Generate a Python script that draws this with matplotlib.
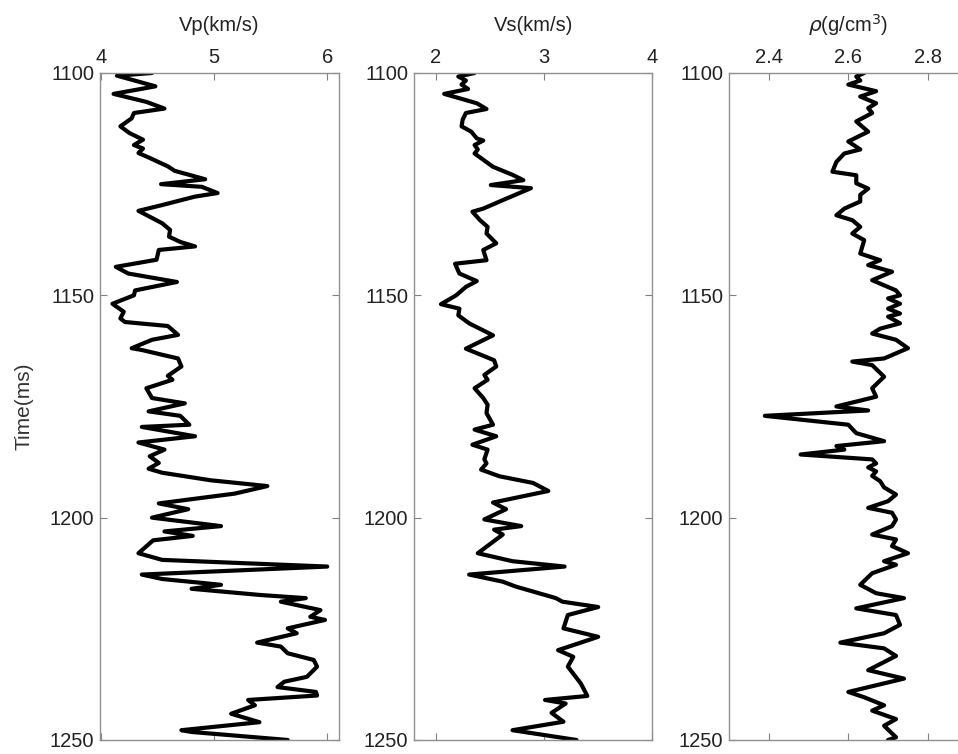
import numpy as np
import matplotlib
matplotlib.use("Agg")
import matplotlib.pyplot as plt

plt.rcParams["font.family"] = ["Liberation Sans", "DejaVu Sans"]

# Vp log (time in ms, velocity in km/s)
vp_t = [1100, 1100.6, 1103, 1104.7, 1106.5, 1108, 1109, 1110.2, 1112, 1113.5, 1115,
        1116.2, 1117, 1118, 1119, 1121, 1122, 1123.9, 1125, 1125.6, 1127, 1127.8,
        1129.7, 1131, 1133.8, 1135.3, 1136.8, 1138, 1139, 1139.8, 1142, 1143.6,
        1145.1, 1147, 1148.9, 1150, 1151.9, 1153.7, 1155.2, 1156, 1156.9, 1158.9,
        1160, 1161.9, 1162.3, 1164.2, 1166, 1168.1, 1169, 1170.9, 1173.1, 1174.3,
        1176.1, 1177.1, 1179.1, 1179.6, 1181.7, 1183.1, 1184.7, 1186.2, 1187.7,
        1189, 1189.9, 1191.6, 1192.9, 1194.6, 1196.8, 1198.1, 1200, 1201.9, 1203.1,
        1204.1, 1205.1, 1208, 1209.5, 1211, 1212.8, 1213.8, 1215.1, 1216, 1217.4,
        1218.1, 1218.9, 1220.8, 1222.3, 1223, 1224.9, 1226, 1228.1, 1229, 1230.5,
        1232, 1233.5, 1235.8, 1236.9, 1238.1, 1239.2, 1240, 1241, 1242.2, 1244.1,
        1246, 1247.8, 1248.2, 1250]
vp = [4.45, 4.14, 4.48, 4.11, 4.40, 4.56, 4.29, 4.27, 4.17, 4.25, 4.37,
      4.29, 4.37, 4.33, 4.42, 4.59, 4.65, 4.92, 4.53, 4.89, 5.03, 4.83,
      4.54, 4.33, 4.54, 4.61, 4.60, 4.70, 4.83, 4.51, 4.49, 4.13,
      4.24, 4.67, 4.30, 4.29, 4.10, 4.20, 4.17, 4.21, 4.59, 4.68,
      4.45, 4.27, 4.36, 4.68, 4.71, 4.59, 4.63, 4.40, 4.45, 4.74,
      4.42, 4.70, 4.78, 4.36, 4.83, 4.33, 4.56, 4.43, 4.51,
      4.42, 4.54, 4.97, 5.47, 5.18, 4.51, 4.77, 4.45, 5.06, 4.56,
      4.81, 4.46, 4.33, 4.54, 6.00, 4.36, 4.54, 5.06, 4.80, 5.41,
      5.81, 5.59, 5.94, 5.85, 5.98, 5.65, 5.73, 5.38, 5.59, 5.65,
      5.88, 5.91, 5.82, 5.62, 5.56, 5.90, 5.91, 5.30, 5.36, 5.15,
      5.40, 4.71, 4.80, 5.65]

# Vs log
vs_t = [1100, 1100.8, 1101.7, 1102.6, 1103.6, 1104.7, 1106.8, 1108.1, 1109, 1110.5,
        1112, 1113.2, 1114.7, 1115.2, 1116.2, 1117.2, 1118.1, 1121.1, 1122.9, 1124.1,
        1125.2, 1125.9, 1128.6, 1130.5, 1131.2, 1133.1, 1134.6, 1136.1, 1138.3,
        1139.8, 1142.1, 1142.9, 1145.1, 1146.8, 1148.1, 1150, 1152, 1153, 1154.5,
        1156.3, 1159, 1162, 1164.6, 1166, 1167.9, 1169, 1170.9, 1173.1, 1174.6,
        1176.5, 1179.1, 1180.2, 1181.7, 1183.6, 1184.7, 1186.9, 1187.8, 1189.2,
        1190.7, 1192.2, 1194, 1196.6, 1198.1, 1200.4, 1201.9, 1202.7, 1203.8, 1208,
        1209.8, 1211, 1212.8, 1214.4, 1215.5, 1218.1, 1218.9, 1220.1, 1221.9,
        1224.9, 1226.8, 1229.8, 1231.3, 1233.5, 1237.3, 1240.1, 1241, 1241.8,
        1243.9, 1245.9, 1247.8, 1250]
vs = [2.36, 2.21, 2.28, 2.24, 2.30, 2.08, 2.38, 2.47, 2.28, 2.25,
      2.24, 2.33, 2.38, 2.44, 2.36, 2.39, 2.36, 2.53, 2.71, 2.81,
      2.51, 2.88, 2.62, 2.44, 2.34, 2.41, 2.48, 2.47, 2.56,
      2.44, 2.47, 2.18, 2.22, 2.38, 2.28, 2.19, 2.05, 2.22, 2.21,
      2.31, 2.53, 2.28, 2.54, 2.56, 2.45, 2.48, 2.36, 2.44, 2.48,
      2.47, 2.53, 2.36, 2.56, 2.34, 2.48, 2.45, 2.47, 2.42,
      2.59, 2.90, 3.04, 2.53, 2.65, 2.45, 2.79, 2.54, 2.62, 2.39,
      2.71, 3.19, 2.31, 2.62, 2.74, 3.11, 3.17, 3.50, 3.22,
      3.18, 3.50, 3.13, 3.27, 3.22, 3.34, 3.40, 3.01, 3.20,
      3.07, 3.18, 2.71, 3.30]

# Density log
rho_t = [1100, 1100.8, 1101.7, 1102.6, 1104.1, 1105.3, 1106.8, 1107.9, 1109, 1110.9,
         1113.2, 1115.4, 1117.2, 1118.1, 1120, 1122.2, 1123, 1124.8, 1126, 1127.4,
         1128.9, 1130.5, 1132, 1133.1, 1134.6, 1136.1, 1137.6, 1140.6, 1142.1,
         1143.2, 1144.7, 1146.6, 1148.9, 1150, 1150.7, 1151.9, 1153, 1154.1, 1154.8,
         1156.3, 1157.5, 1158.6, 1160, 1161.9, 1164.2, 1164.9, 1165.7, 1168.3,
         1170.9, 1172.8, 1175, 1175.9, 1177.1, 1179.1, 1181, 1182.8, 1183.9, 1184.7,
         1185.8, 1186.9, 1187.8, 1188.7, 1189.6, 1190.6, 1191.8, 1193.2, 1194.8,
         1196.3, 1197.8, 1198.9, 1200.4, 1201.9, 1203.8, 1204.9, 1206.4, 1208,
         1209.8, 1210.6, 1212.5, 1215.1, 1217, 1218.1, 1220.4, 1221.9, 1224.1,
         1226, 1228.1, 1229.4, 1231.1, 1234.3, 1236.2, 1239.2, 1240.4, 1242.2,
         1243.4, 1245.3, 1246.8, 1249.4, 1250]
rho = [2.64, 2.62, 2.63, 2.60, 2.67, 2.63, 2.67, 2.65, 2.66, 2.62,
       2.65, 2.60, 2.63, 2.59, 2.57, 2.56, 2.62, 2.62, 2.65, 2.63,
       2.63, 2.59, 2.57, 2.61, 2.63, 2.61, 2.64, 2.63, 2.68,
       2.65, 2.71, 2.66, 2.72, 2.73, 2.70, 2.73, 2.70, 2.73, 2.70,
       2.73, 2.68, 2.66, 2.72, 2.75, 2.69, 2.61, 2.66, 2.69,
       2.66, 2.67, 2.57, 2.65, 2.39, 2.60, 2.62, 2.69, 2.57, 2.59,
       2.48, 2.66, 2.67, 2.65, 2.67, 2.66, 2.68, 2.69, 2.72,
       2.70, 2.65, 2.71, 2.72, 2.71, 2.66, 2.72, 2.71, 2.75,
       2.69, 2.72, 2.66, 2.63, 2.67, 2.74, 2.62, 2.72, 2.73,
       2.69, 2.58, 2.69, 2.72, 2.65, 2.74, 2.60, 2.64, 2.69,
       2.66, 2.72, 2.69, 2.72, 2.70]

titles = ["Vp(km/s)", "Vs(km/s)", r"$\rho$(g/cm$^3$)"]
xlims = [(3.99, 6.1), (1.8, 4.0), (2.3, 2.9)]
xticks = [[4, 5, 6], [2, 3, 4], [2.4, 2.6, 2.8]]
xtick_labels = [["4", "5", "6"], ["2", "3", "4"], ["2.4", "2.6", "2.8"]]
yticks = [1100, 1150, 1200, 1250]

fig = plt.figure(figsize=(9.58, 7.54), dpi=100)
lefts = [0.1044, 0.432, 0.761]
logs = [(vp, vp_t), (vs, vs_t), (rho, rho_t)]

for i, (x, t) in enumerate(logs):
    ax = fig.add_axes([lefts[i], 0.0186, 0.249, 0.8846])
    ax.plot(x, t, color="black", linewidth=3.0,
            solid_joinstyle="round", solid_capstyle="round")
    ax.set_xlim(*xlims[i])
    ax.set_ylim(1250, 1100)
    ax.set_xticks(xticks[i])
    ax.set_xticklabels(xtick_labels[i])
    ax.set_yticks(yticks)
    ax.xaxis.tick_top()
    ax.xaxis.set_label_position("top")
    ax.tick_params(direction="in", top=True, bottom=True, left=True, right=True,
                   labelsize=14.5, length=5, color="#808080", pad=4,
                   labelcolor="#222222")
    for s in ax.spines.values():
        s.set_color("#909090")
        s.set_linewidth(1.0)
    ax.set_title(titles[i], fontsize=14.5, pad=30, color="#222222")
    if i == 0:
        ax.set_ylabel("Time(ms)", fontsize=15, color="#333333", labelpad=12)

fig.savefig("out.png", dpi=100)
